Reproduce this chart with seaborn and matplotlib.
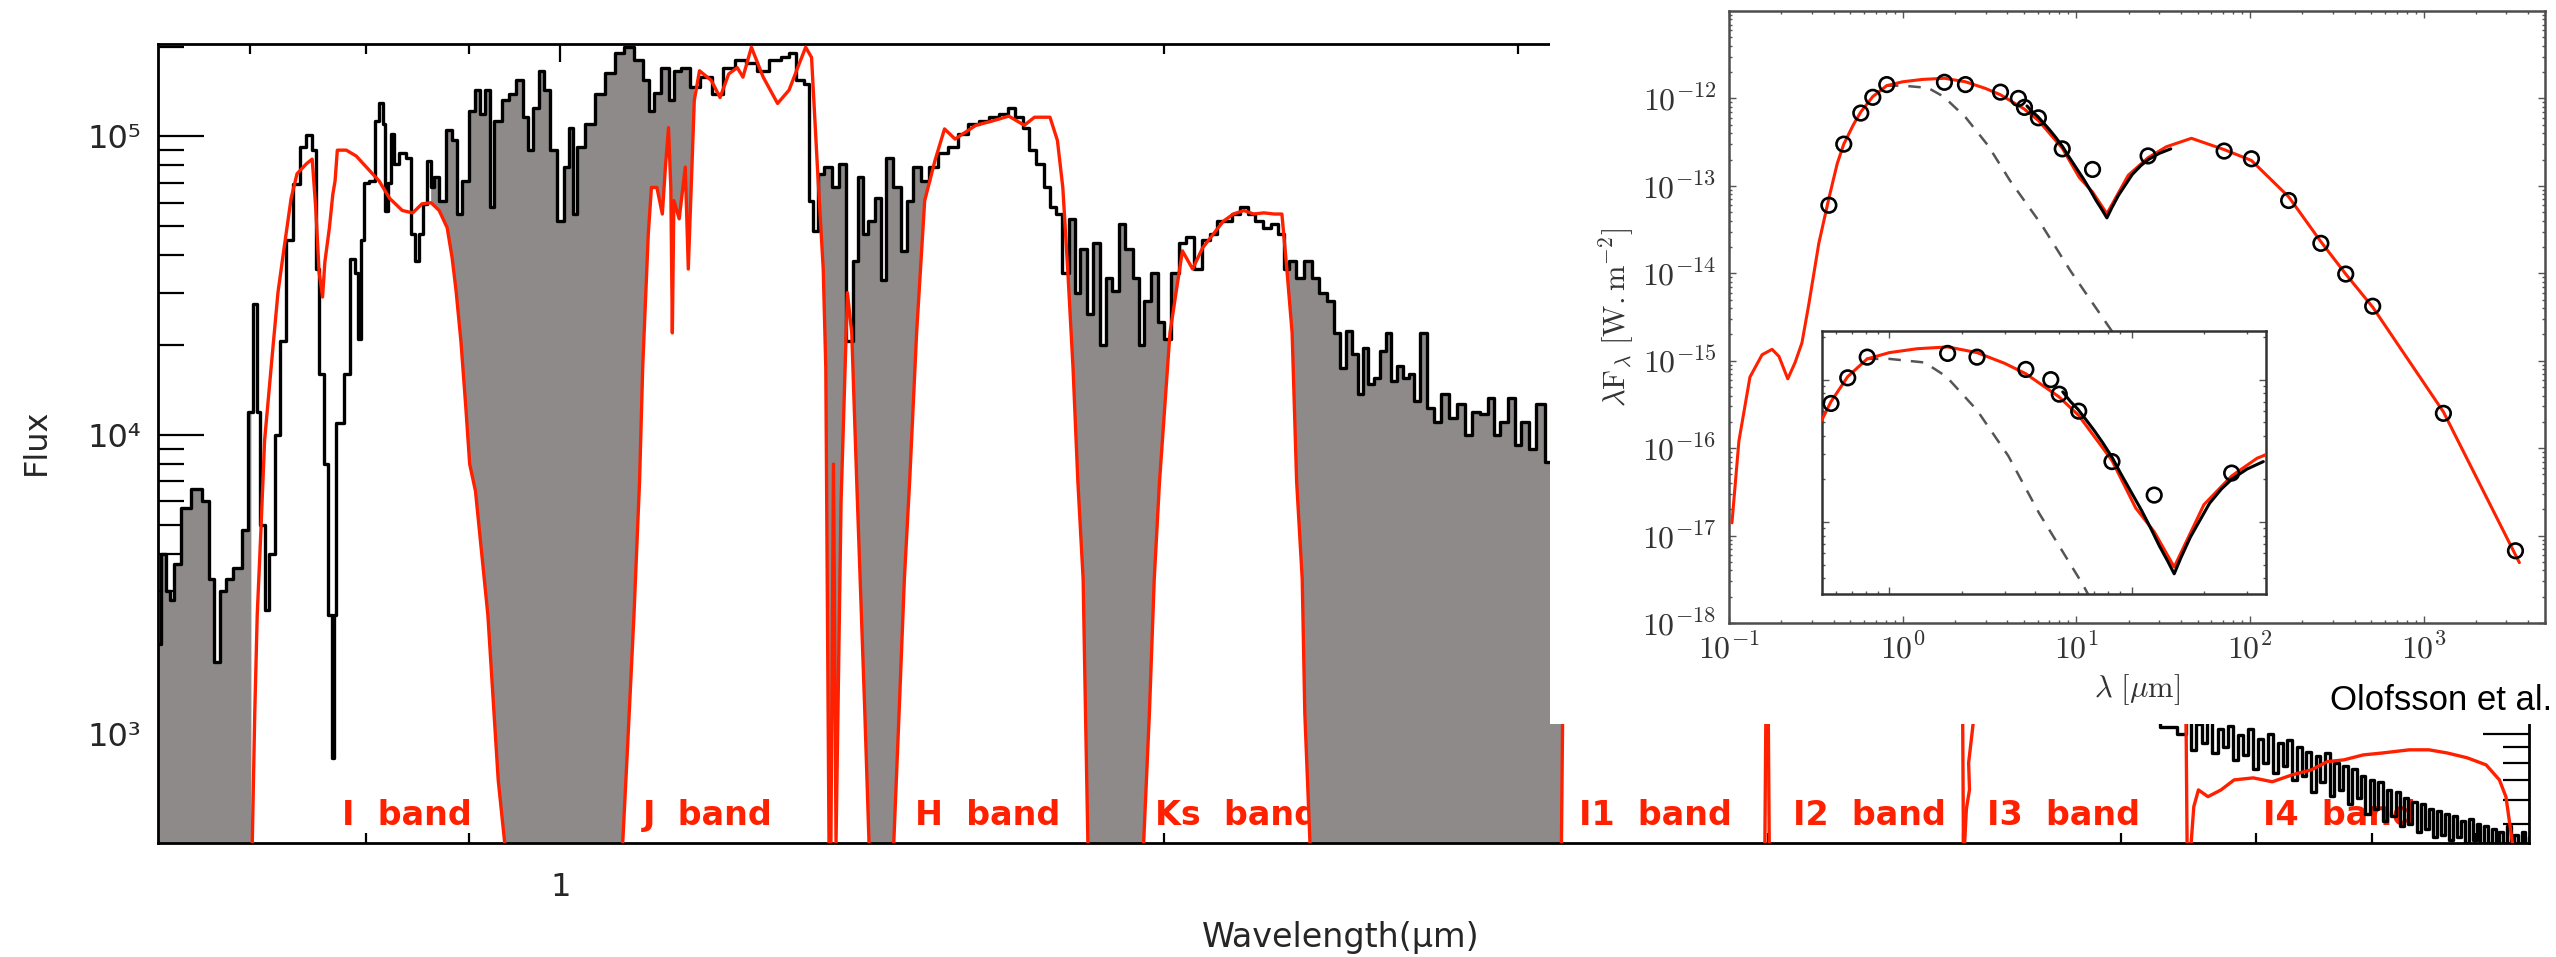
import numpy as np
import matplotlib
matplotlib.use("Agg")
import matplotlib.pyplot as plt
import seaborn as sns
from matplotlib.patches import Rectangle
from matplotlib.ticker import FixedLocator, FuncFormatter, LogLocator, NullFormatter

# ------------------------------------------------------------------ data
# main spectrum (wavelength in micron, flux)
spec_wl = [0.630, 0.634, 0.638, 0.640, 0.644, 0.649, 0.659, 0.666, 0.670, 0.674, 0.679, 0.684, 0.690, 0.697,
           0.700, 0.705, 0.706, 0.710, 0.714, 0.718, 0.723, 0.727, 0.733, 0.739, 0.744, 0.750, 0.754, 0.756,
           0.760, 0.764, 0.768, 0.770, 0.772, 0.773, 0.778, 0.782, 0.788, 0.792, 0.794, 0.797, 0.800, 0.806,
           0.810, 0.814, 0.817, 0.819, 0.822, 0.825, 0.828, 0.834, 0.841, 0.844, 0.849, 0.852, 0.855, 0.860,
           0.863, 0.867, 0.873, 0.880, 0.885, 0.890, 0.896, 0.904, 0.909, 0.914, 0.920, 0.924, 0.930, 0.940,
           0.946, 0.954, 0.962, 0.965, 0.973, 0.979, 0.984, 0.991, 1.001, 1.007, 1.013, 1.016, 1.022, 1.034,
           1.046, 1.058, 1.070, 1.082, 1.095, 1.104, 1.110, 1.117, 1.128, 1.136, 1.143, 1.154, 1.166, 1.181,
           1.198, 1.213, 1.230, 1.245, 1.262, 1.279, 1.296, 1.304, 1.317, 1.327, 1.334, 1.339, 1.348, 1.359,
           1.371, 1.382, 1.395, 1.403, 1.411, 1.420, 1.428, 1.441, 1.449, 1.458, 1.471, 1.485, 1.493, 1.505,
           1.519, 1.533, 1.551, 1.569, 1.587, 1.607, 1.626, 1.644, 1.664, 1.679, 1.692, 1.708, 1.718, 1.734,
           1.750, 1.760, 1.774, 1.784, 1.801, 1.811, 1.822, 1.838, 1.849, 1.866, 1.876, 1.891, 1.905, 1.920,
           1.938, 1.949, 1.960, 1.978, 1.994, 2.006, 2.024, 2.043, 2.060, 2.079, 2.098, 2.115, 2.134, 2.154,
           2.171, 2.191, 2.211, 2.229, 2.250, 2.270, 2.289, 2.302, 2.316, 2.337, 2.359, 2.378, 2.399, 2.421,
           2.441, 2.455, 2.472, 2.492, 2.506, 2.521, 2.535, 2.553, 2.573, 2.588, 2.603, 2.621, 2.642, 2.657,
           2.673, 2.694, 2.713, 2.738, 2.760, 2.786, 2.812, 2.835, 2.861, 2.887, 2.911, 2.928, 2.955, 2.982,
           2.999, 3.027, 3.051, 3.079, 3.114, 3.30, 3.60, 4.00, 4.50, 5.00, 5.50, 6.00, 6.20, 6.35,
           6.44, 6.48, 6.52, 6.56, 6.60, 6.64, 6.68, 6.72, 6.76, 6.80, 6.84, 6.88, 6.92, 6.96, 7.00, 7.04,
           7.08, 7.12, 7.16, 7.20, 7.24, 7.28, 7.32, 7.36, 7.40, 7.44, 7.48, 7.52, 7.56, 7.60, 7.64, 7.68,
           7.72, 7.76, 7.80, 7.84, 7.88, 7.92, 7.96, 8.00, 8.04, 8.08, 8.12, 8.16, 8.20, 8.24, 8.28, 8.32,
           8.36, 8.40, 8.44, 8.48, 8.52, 8.56, 8.60, 8.64, 8.68, 8.72, 8.76, 8.80, 8.84, 8.88, 8.92, 8.96,
           9.00, 9.04, 9.08, 9.12, 9.16, 9.20, 9.24, 9.28, 9.32, 9.36, 9.40, 9.44, 9.48, 9.52, 9.56, 9.60]
spec_flux = [2.0e3, 4.0e3, 3.0e3, 2.8e3, 3.7e3, 5.7e3, 6.6e3, 6.0e3, 3.3e3, 1.74e3, 3.0e3, 3.3e3, 3.6e3, 4.8e3,
             1.2e4, 2.75e4, 1.2e4, 5.0e3, 2.6e3, 4.0e3, 1.0e4, 2.06e4, 4.5e4, 6.95e4, 9.2e4, 1.01e5, 9.0e4, 3.6e4,
             1.6e4, 8.0e3, 2.5e3, 830, 2.5e3, 1.1e4, 1.1e4, 1.6e4, 3.9e4, 3.5e4, 2.1e4, 4.5e4, 7.0e4, 7.1e4,
             1.13e5, 1.29e5, 1.1e5, 5.65e4, 7.0e4, 1.02e5, 8.1e4, 8.8e4, 8.5e4, 4.7e4, 3.84e4, 4.7e4, 5.95e4, 8.3e4,
             6.75e4, 7.3e4, 6.1e4, 1.05e5, 9.7e4, 5.5e4, 7.1e4, 1.22e5, 1.43e5, 1.19e5, 1.43e5, 5.8e4, 1.13e5, 1.32e5,
             1.39e5, 1.54e5, 1.16e5, 9.0e4, 1.25e5, 1.66e5, 1.43e5, 9.0e4, 5.2e4, 7.9e4, 1.07e5, 5.5e4, 9.2e4, 1.1e5,
             1.39e5, 1.63e5, 1.9e5, 2.0e5, 1.8e5, 1.54e5, 1.22e5, 1.4e5, 1.7e5, 1.32e5, 1.66e5, 1.7e5, 1.46e5, 1.58e5,
             1.39e5, 1.7e5, 1.8e5, 1.76e5, 1.66e5, 1.8e5, 1.84e5, 1.9e5, 1.54e5, 1.5e5, 6.1e4, 4.84e4, 7.5e4, 7.9e4,
             6.75e4, 8.1e4, 2.06e4, 3.84e4, 7.3e4, 4.7e4, 5.2e4, 6.2e4, 3.3e4, 8.5e4, 6.75e4, 4.14e4, 6.1e4, 7.9e4,
             7.1e4, 7.9e4, 8.8e4, 9.2e4, 1.02e5, 1.1e5, 1.13e5, 1.16e5, 1.19e5, 1.25e5, 1.16e5, 1.07e5, 9.0e4, 8.1e4,
             6.75e4, 5.8e4, 5.5e4, 3.5e4, 5.3e4, 3.0e4, 4.2e4, 2.55e4, 4.4e4, 2.0e4, 3.37e4, 3.05e4, 5.1e4, 4.2e4,
             3.37e4, 2.0e4, 2.82e4, 3.5e4, 2.4e4, 2.1e4, 3.5e4, 4.4e4, 4.6e4, 3.6e4, 4.5e4, 4.7e4, 5.2e4, 5.2e4,
             5.5e4, 5.8e4, 5.5e4, 5.2e4, 4.95e4, 5.1e4, 4.7e4, 3.6e4, 3.84e4, 3.37e4, 3.84e4, 3.37e4, 3.0e4, 2.82e4,
             2.2e4, 1.68e4, 2.24e4, 1.87e4, 1.37e4, 1.96e4, 1.48e4, 1.55e4, 1.91e4, 2.2e4, 1.52e4, 1.7e4, 1.55e4, 1.6e4,
             1.3e4, 2.2e4, 1.23e4, 1.11e4, 1.37e4, 1.14e4, 1.27e4, 1.0e4, 1.2e4, 1.18e4, 1.33e4, 1.0e4, 1.11e4, 1.33e4,
             9.3e3, 1.11e4, 9.0e3, 1.27e4, 8.1e3, 7.5e3, 5.5e3, 4.0e3, 3.0e3, 2.2e3, 1.7e3, 1.3e3, 1.1e3, 1.05e3,
             1000, 1150, 880, 1080, 930, 1120, 860, 1040, 900, 1060, 820, 990, 850, 1040, 760, 960,
             800, 1000, 740, 930, 780, 950, 700, 900, 720, 870, 640, 840, 690, 860, 620, 800,
             650, 780, 580, 760, 610, 720, 540, 700, 560, 690, 510, 650, 530, 640, 490, 610,
             500, 590, 470, 580, 480, 560, 450, 550, 460, 540, 440, 530, 450, 510, 430, 520,
             440, 500, 420, 490, 430, 480, 415, 470, 420, 490, 410, 460, 420, 470, 415, 450]

# filter transmission curves (scaled to flux units)
i_wl = [0.699, 0.702, 0.704, 0.706, 0.709, 0.712, 0.718, 0.723, 0.728, 0.734, 0.739, 0.747, 0.752, 0.755,
        0.758, 0.761, 0.763, 0.767, 0.770, 0.772, 0.774, 0.782, 0.791, 0.803, 0.812, 0.822, 0.834, 0.844,
        0.853, 0.862, 0.870, 0.878, 0.883, 0.887, 0.892, 0.897, 0.901, 0.907, 0.920, 0.931, 0.938, 0.941]
i_fl = [300, 430, 1170, 2500, 4800, 9600, 1.8e4, 3.0e4, 4.2e4, 6.2e4, 7.5e4, 8.1e4, 8.4e4, 5.8e4,
        3.5e4, 2.9e4, 3.8e4, 4.95e4, 6.4e4, 7.1e4, 9.0e4, 9.0e4, 8.6e4, 7.7e4, 7.1e4, 6.2e4, 5.65e4, 5.55e4,
        5.95e4, 6.0e4, 5.65e4, 4.95e4, 3.93e4, 3.05e4, 2.06e4, 1.24e4, 8.0e3, 6.5e3, 2.5e3, 700, 430, 300]
j_wl = [1.071, 1.074, 1.080, 1.088, 1.095, 1.099, 1.106, 1.110, 1.117, 1.124, 1.128, 1.132, 1.135, 1.137,
        1.139, 1.146, 1.154, 1.158, 1.166, 1.173, 1.189, 1.201, 1.213, 1.225, 1.233, 1.245, 1.262, 1.283,
        1.300, 1.313, 1.325, 1.334, 1.343, 1.352, 1.356, 1.361, 1.364, 1.368, 1.372, 1.380, 1.390, 1.397,
        1.405, 1.418, 1.425, 1.430]
j_fl = [300, 430, 900, 2500, 7000, 1.7e4, 4.7e4, 6.75e4, 6.75e4, 5.5e4, 7.9e4, 1.07e5, 6.75e4, 2.2e4,
        6.1e4, 5.3e4, 7.9e4, 3.6e4, 1.32e5, 1.66e5, 1.54e5, 1.35e5, 1.62e5, 1.7e5, 1.58e5, 1.99e5, 1.58e5, 1.29e5,
        1.43e5, 1.7e5, 1.99e5, 1.84e5, 7.9e4, 3.6e4, 1.68e4, 430, 430, 8000, 430, 6000, 3.0e4, 2.2e4,
        7000, 1200, 430, 300]
h_wl = [1.460, 1.466, 1.475, 1.484, 1.493, 1.505, 1.519, 1.537, 1.554, 1.573, 1.587, 1.611, 1.644, 1.673,
        1.703, 1.723, 1.754, 1.769, 1.780, 1.790, 1.801, 1.811, 1.822, 1.827, 1.832, 1.838]
h_fl = [300, 430, 1170, 3300, 7000, 2.2e4, 6.1e4, 8.3e4, 1.06e5, 9.8e4, 1.02e5, 1.09e5, 1.13e5, 1.17e5,
        1.09e5, 1.16e5, 1.16e5, 9.7e4, 6.75e4, 3.6e4, 1.68e4, 7000, 3300, 1170, 430, 300]
ks_wl = [1.948, 1.953, 1.966, 1.977, 1.989, 2.013, 2.030, 2.042, 2.066, 2.090, 2.115, 2.140, 2.165, 2.191,
         2.216, 2.242, 2.269, 2.289, 2.302, 2.316, 2.328, 2.343, 2.350, 2.364, 2.370]
ks_fl = [300, 430, 1170, 3300, 7000, 2.2e4, 3.2e4, 4.14e4, 3.6e4, 4.24e4, 4.7e4, 5.2e4, 5.5e4, 5.65e4,
         5.5e4, 5.55e4, 5.5e4, 5.5e4, 3.6e4, 2.2e4, 7000, 3300, 1170, 430, 300]
i1_wl = [3.14, 3.155, 3.165, 3.20, 3.40, 3.70, 3.95, 3.995, 4.005, 4.02]
i1_fl = [300, 430, 4000, 6000, 7000, 7000, 6000, 4000, 430, 300]
i2_wl = [3.97, 3.985, 3.995, 4.10, 4.40, 4.80, 4.98, 4.995, 5.005, 5.02]
i2_fl = [300, 430, 4000, 5000, 5500, 5500, 5000, 4000, 430, 300]
i3_wl = [5.00, 5.012, 5.022, 5.040, 5.035, 5.050, 5.070, 5.10, 5.40, 5.90, 6.30, 6.44, 6.46, 6.47, 6.49]
i3_fl = [300, 430, 560, 650, 800, 950, 1200, 4000, 5000, 5000, 4500, 3000, 1500, 430, 300]
i4_wl = [6.48, 6.50, 6.52, 6.555, 6.627, 6.727, 6.829, 6.98, 7.135, 7.30, 7.46, 7.60, 7.745, 7.92,
         8.10, 8.35, 8.54, 8.72, 8.925, 9.12, 9.26, 9.33, 9.40, 9.42]
i4_fl = [300, 430, 570, 649, 616, 649, 701, 712, 691, 729, 757, 807, 818, 850,
         863, 884, 884, 863, 831, 787, 701, 615, 430, 300]

band_names = ["I  band", "J  band", "H  band", "Ks  band", "I1  band", "I2  band", "I3  band", "I4  band"]
band_x = [0.778, 1.099, 1.502, 1.979, 3.219, 4.116, 5.143, 7.06]
band_y = 495
# wavelength ranges inside the filter passbands (no grey shading)
passband_ranges = [(0.7015, 0.862), (1.166, 1.334), (1.525, 1.775), (2.04, 2.295), (3.16, 20.0)]

# SED inset (Olofsson et al.)
sed_wl = [0.376, 0.458, 0.574, 0.673, 0.81, 1.74, 2.30, 3.66, 4.64, 5.03, 6.05, 8.3, 12.4, 25.9,
          71, 102, 167, 256, 356, 509, 1300, 3380]
sed_fl = [6.0e-14, 3.0e-13, 6.8e-13, 1.03e-12, 1.44e-12, 1.53e-12, 1.44e-12, 1.18e-12, 1.0e-12, 7.9e-13,
          6.0e-13, 2.65e-13, 1.54e-13, 2.2e-13, 2.5e-13, 2.04e-13, 6.8e-14, 2.2e-14, 9.8e-15, 4.2e-15,
          2.5e-16, 6.7e-18]
model_wl = [0.104, 0.114, 0.132, 0.155, 0.177, 0.194, 0.218, 0.24, 0.263, 0.288, 0.329, 0.376, 0.42, 0.458,
            0.52, 0.574, 0.673, 0.81, 1.0, 1.3, 1.74, 2.3, 3.0, 3.66, 5.0, 6.05, 8.3, 10.4, 12.4, 15.0,
            19.9, 25.9, 33, 46, 71, 102, 167, 256, 356, 509, 1300, 3560]
model_fl = [1.4e-17, 1.2e-16, 6.5e-16, 1.17e-15, 1.35e-15, 1.12e-15, 6.2e-16, 9.5e-16, 1.6e-15, 4.4e-15,
            2.2e-14, 7.2e-14, 1.8e-13, 3.0e-13, 5.0e-13, 7.0e-13, 1.05e-12, 1.4e-12, 1.55e-12, 1.65e-12,
            1.7e-12, 1.55e-12, 1.3e-12, 1.1e-12, 7.6e-13, 5.6e-13, 2.7e-13, 1.25e-13, 8.5e-14, 4.8e-14,
            1.32e-13, 2.1e-13, 2.8e-13, 3.5e-13, 2.6e-13, 1.95e-13, 7.5e-14, 2.3e-14, 9.8e-15, 4.1e-15,
            2.6e-16, 4.9e-18]
irs_wl = [5.2, 5.6, 6.0, 6.5, 7.0, 7.6, 8.3, 9.0, 10.0, 11.0, 12.0, 13.0, 14.0, 15.0, 16.0, 17.5,
          19.0, 21.0, 23.5, 26.0, 30.0, 35.0]
irs_fl = [8.2e-13, 7.0e-13, 6.2e-13, 5.2e-13, 4.4e-13, 3.6e-13, 2.85e-13, 2.2e-13, 1.6e-13, 1.2e-13,
          9.0e-14, 6.8e-14, 5.4e-14, 4.3e-14, 5.6e-14, 7.8e-14, 1.0e-13, 1.35e-13, 1.7e-13, 2.0e-13,
          2.35e-13, 2.65e-13]
phot_wl = [0.80, 1.0, 1.4, 1.72, 2.3, 3.1, 4.15, 6.3, 9.3, 15.5, 25]
phot_fl = [1.40e-12, 1.40e-12, 1.32e-12, 1.05e-12, 6.1e-13, 2.9e-13, 1.15e-13, 3.6e-14, 1.05e-14,
           2.4e-15, 6e-16]

# ------------------------------------------------------------------ style
sns.set_theme(style="white")
plt.rcParams["font.family"] = ["DejaVu Sans"]
plt.rcParams["mathtext.fontset"] = "cm"

RED = "#ff2000"
GRAY = "#8e8a8a"
W, H = 2556, 957

fig = plt.figure(figsize=(W / 100, H / 100), dpi=100)
fig.patch.set_facecolor("white")

# ------------------------------------------------------------------ main axes
ax = fig.add_axes([158 / W, 1 - 843 / H, (2529 - 158) / W, (843 - 44) / H], zorder=0)
ax.set_xscale("log")
ax.set_yscale("log")
ax.set_xlim(0.63, 9.58)
ax.set_ylim(431, 2.04e5)
ax.set_facecolor("white")

filters = [(i_wl, i_fl), (j_wl, j_fl), (h_wl, h_fl), (ks_wl, ks_fl),
           (i1_wl, i1_fl), (i2_wl, i2_fl), (i3_wl, i3_fl), (i4_wl, i4_fl)]

# grey shading: under the spectrum, above the filter curves, outside passbands
grid = np.geomspace(0.6, 10.0, 9000)
lg = np.log10(grid)
sw = np.log10(np.array(spec_wl))
mids = 0.5 * (sw[1:] + sw[:-1])
black_grid = np.array(spec_flux)[np.searchsorted(mids, lg)]
red_env = np.zeros_like(grid)
for wl, fl in filters:
    order = np.argsort(wl)
    v = np.interp(lg, np.log10(np.array(wl)[order]), np.log10(np.array(fl)[order]), left=-5, right=-5)
    red_env = np.maximum(red_env, 10 ** v)
mask = black_grid > red_env
for a, b in passband_ranges:
    mask &= ~((grid >= a) & (grid <= b))
ax.fill_between(grid, np.maximum(red_env, 100), black_grid, where=mask, color=GRAY, lw=0, zorder=1)

for name, xb in zip(band_names, band_x):
    ax.text(xb, band_y, name, color=RED, fontsize=24, fontweight="bold", ha="left", va="baseline", zorder=0.5)

sns.lineplot(x=spec_wl, y=spec_flux, ax=ax, color="black", lw=2.4, drawstyle="steps-mid",
             estimator=None, sort=False, zorder=3)
for wl, fl in filters:
    sns.lineplot(x=wl, y=fl, ax=ax, color=RED, lw=2.4, estimator=None, sort=False, zorder=4)

ax.xaxis.set_major_locator(FixedLocator([1.0, 10.0]))
ax.xaxis.set_major_formatter(FuncFormatter(lambda v, p: "1" if abs(v - 1) < 1e-9 else ""))
ax.xaxis.set_minor_locator(LogLocator(base=10, subs=np.arange(2, 10) * 1.0, numticks=50))
ax.xaxis.set_minor_formatter(NullFormatter())
sup = {3: "10³", 4: "10⁴", 5: "10⁵"}
ax.yaxis.set_major_locator(FixedLocator([1e3, 1e4, 1e5]))
ax.yaxis.set_major_formatter(FuncFormatter(lambda v, p: sup.get(int(round(np.log10(v))), "")))
ax.yaxis.set_minor_locator(LogLocator(base=10, subs=np.arange(2, 10) * 1.0, numticks=50))
ax.yaxis.set_minor_formatter(NullFormatter())
ax.tick_params(which="both", direction="in", top=True, right=True, bottom=True, left=True,
               width=1.6, color="black", labelcolor="#262626", labelsize=23)
ax.tick_params(axis="y", which="major", length=33, pad=12)
ax.tick_params(axis="y", which="minor", length=19)
ax.tick_params(axis="x", which="major", length=13, pad=21)
ax.tick_params(axis="x", which="minor", length=7)
for s in ax.spines.values():
    s.set_color("black")
    s.set_linewidth(2.0)
ax.set_xlabel("")
ax.set_ylabel("")

fig.text(36 / W, 1 - 442 / H, "Flux", rotation=90, ha="center", va="center", fontsize=23, color="#262626")
fig.text(1341 / W, 1 - 937 / H, "Wavelength(μm)", ha="center", va="center", fontsize=24, color="#262626")

# ------------------------------------------------------------------ white box for pasted SED
fig.add_artist(Rectangle((1550 / W, 1 - 724 / H), 1006 / W, 724 / H, transform=fig.transFigure,
                         facecolor="white", edgecolor="none", zorder=5))

# ------------------------------------------------------------------ SED inset
ax2 = fig.add_axes([1729 / W, 1 - 623 / H, (2545 - 1729) / W, (623 - 11) / H], zorder=6)
ax2.set_xscale("log")
ax2.set_yscale("log")
ax2.set_xlim(0.1, 5000)
ax2.set_ylim(1e-18, 1e-11)
ax2.set_facecolor("white")
sns.lineplot(x=phot_wl, y=phot_fl, ax=ax2, color="#555555", lw=1.8, linestyle=(0, (5, 4)),
             estimator=None, sort=False, zorder=2)
sns.lineplot(x=model_wl, y=model_fl, ax=ax2, color=RED, lw=2.2, estimator=None, sort=False, zorder=3)
sns.lineplot(x=irs_wl, y=irs_fl, ax=ax2, color="black", lw=2.2, estimator=None, sort=False, zorder=4)
sns.scatterplot(x=sed_wl, y=sed_fl, ax=ax2, color="black", s=110, zorder=5)
pts = ax2.collections[-1]
pts.set_facecolor("none")
pts.set_edgecolor("black")
pts.set_linewidth(1.9)

ax2.xaxis.set_major_locator(FixedLocator([0.1, 1, 10, 100, 1000]))
ax2.xaxis.set_major_formatter(FuncFormatter(lambda v, p: r"$10^{%d}$" % int(round(np.log10(v)))))
ax2.xaxis.set_minor_locator(LogLocator(base=10, subs=np.arange(2, 10) * 1.0, numticks=50))
ax2.xaxis.set_minor_formatter(NullFormatter())
ax2.yaxis.set_major_locator(FixedLocator([1e-18, 1e-17, 1e-16, 1e-15, 1e-14, 1e-13, 1e-12]))
ax2.yaxis.set_major_formatter(FuncFormatter(lambda v, p: r"$10^{%d}$" % int(round(np.log10(v)))))
ax2.yaxis.set_minor_locator(LogLocator(base=10, subs=np.arange(2, 10) * 1.0, numticks=50))
ax2.yaxis.set_minor_formatter(NullFormatter())
ax2.tick_params(which="both", direction="in", top=True, right=True, bottom=True, left=True,
                color="#555555", width=1.0, labelcolor="#333333", labelsize=23)
ax2.tick_params(which="major", length=5)
ax2.tick_params(which="minor", length=2.5)
ax2.tick_params(axis="y", pad=9)
ax2.tick_params(axis="x", pad=8)
for s in ax2.spines.values():
    s.set_color("#4d4d4d")
    s.set_linewidth(1.8)
ax2.set_xlabel("")
ax2.set_ylabel("")
fig.text(1617 / W, 1 - 317 / H, r"$\lambda\mathrm{F}_\lambda\ [\mathrm{W.m^{-2}}]$", rotation=90,
         ha="center", va="center", fontsize=22, color="#333333", zorder=8)
fig.text(2137 / W, 1 - 690 / H, r"$\lambda\ [\mu\mathrm{m}]$", ha="center", va="center",
         fontsize=22, color="#333333", zorder=8)

# ------------------------------------------------------------------ inner zoom inset
ax3 = fig.add_axes([1822 / W, 1 - 594 / H, 444 / W, 263 / H], zorder=7)
ax3.set_xscale("log")
ax3.set_yscale("log")
ax3.set_xlim(0.527, 35.9)
ax3.set_ylim(3.1e-14, 2.2e-12)
ax3.set_facecolor("white")
sns.lineplot(x=phot_wl, y=phot_fl, ax=ax3, color="#555555", lw=1.8, linestyle=(0, (5, 4)),
             estimator=None, sort=False, zorder=2)
sns.lineplot(x=model_wl, y=model_fl, ax=ax3, color=RED, lw=2.2, estimator=None, sort=False, zorder=3)
sns.lineplot(x=irs_wl, y=irs_fl, ax=ax3, color="black", lw=2.2, estimator=None, sort=False, zorder=4)
sns.scatterplot(x=sed_wl, y=sed_fl, ax=ax3, color="black", s=110, zorder=5)
pts3 = ax3.collections[-1]
pts3.set_facecolor("none")
pts3.set_edgecolor("black")
pts3.set_linewidth(1.9)
ax3.xaxis.set_major_locator(FixedLocator([1, 10]))
ax3.xaxis.set_minor_locator(LogLocator(base=10, subs=np.arange(2, 10) * 1.0, numticks=50))
ax3.yaxis.set_major_locator(FixedLocator([1e-13, 1e-12]))
ax3.yaxis.set_minor_locator(LogLocator(base=10, subs=np.arange(2, 10) * 1.0, numticks=50))
ax3.xaxis.set_major_formatter(NullFormatter())
ax3.xaxis.set_minor_formatter(NullFormatter())
ax3.yaxis.set_major_formatter(NullFormatter())
ax3.yaxis.set_minor_formatter(NullFormatter())
ax3.tick_params(which="both", direction="in", top=True, right=True, bottom=True, left=True,
                color="#555555", width=1.0)
ax3.tick_params(which="major", length=5)
ax3.tick_params(which="minor", length=2.5)
for s in ax3.spines.values():
    s.set_color("#333333")
    s.set_linewidth(1.8)
ax3.set_xlabel("")
ax3.set_ylabel("")

fig.text(2552 / W, 1 - 710 / H, "Olofsson et al.", ha="right", va="baseline", fontsize=25,
         family=["Liberation Sans", "DejaVu Sans"], fontweight="normal", color="black", zorder=9)

fig.savefig("out.png", dpi=100, facecolor="white")
